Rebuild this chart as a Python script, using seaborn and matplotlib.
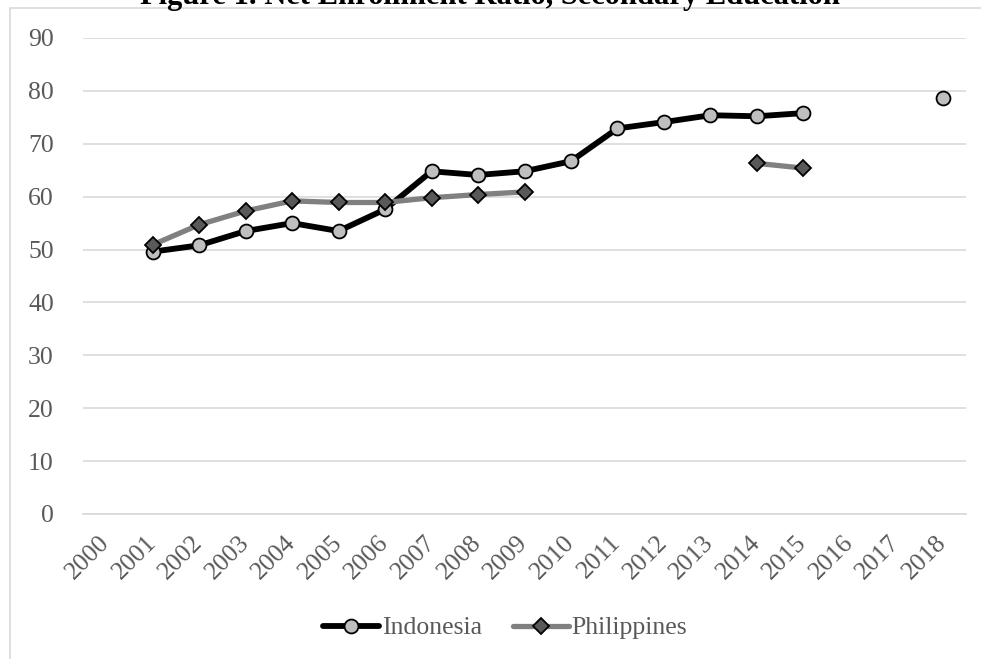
import numpy as np
import pandas as pd
import matplotlib
matplotlib.use("Agg")
import matplotlib.pyplot as plt
from matplotlib.lines import Line2D
from matplotlib.patches import Rectangle
import seaborn as sns

years = list(range(2000, 2019))
indonesia = [np.nan, 49.6, 50.8, 53.5, 55.0, 53.5, 57.6, 64.8, 64.1, 64.8, 66.7,
             72.9, 74.1, 75.4, 75.2, 75.8, np.nan, np.nan, 78.7]
philippines = [np.nan, 50.9, 54.7, 57.3, 59.2, 58.9, 58.9, 59.8, 60.4, 60.9, np.nan,
               np.nan, np.nan, np.nan, 66.3, 65.4, np.nan, np.nan, np.nan]
series_names = ["Indonesia", "Philippines"]
title = "Figure 1. Net Enrollment Ratio, Secondary Education"


def to_long(name, vals):
    rows = []
    seg = 0
    prev_nan = True
    for y, v in zip(years, vals):
        if np.isnan(v):
            prev_nan = True
            continue
        if prev_nan:
            seg += 1
            prev_nan = False
        rows.append({"year": y, "value": v, "country": name, "segment": seg})
    return pd.DataFrame(rows)


sns.set_theme(style="white")
plt.rcParams["font.family"] = ["Liberation Serif", "DejaVu Serif"]

fig = plt.figure(figsize=(9.81, 6.59), dpi=100)
ax = fig.add_axes([83 / 981, 1 - 514 / 659, (966 - 83) / 981, (514 - 38) / 659])

grid_c = "#d9d9d9"
txt_c = "#595959"

styles = {
    "Indonesia": dict(color="black", marker="o", markersize=10, markerfacecolor="#bfbfbf",
                      markeredgecolor="black", markeredgewidth=1.3, linewidth=4.2),
    "Philippines": dict(color="#808080", marker="D", markersize=8, markerfacecolor="#595959",
                        markeredgecolor="black", markeredgewidth=1.3, linewidth=3.8),
}

for name, vals in zip(series_names, [indonesia, philippines]):
    df = to_long(name, vals)
    st = styles[name]
    sns.lineplot(data=df, x="year", y="value", units="segment", estimator=None,
                 color=st["color"], marker=st["marker"], markersize=st["markersize"],
                 markerfacecolor=st["markerfacecolor"], markeredgecolor=st["markeredgecolor"],
                 markeredgewidth=st["markeredgewidth"], linewidth=st["linewidth"],
                 ax=ax, legend=False, zorder=3 if name == "Indonesia" else 4)

ax.set_xlim(1999.5, 2018.5)
ax.set_ylim(0, 90)
ax.set_yticks(range(0, 91, 10))
ax.set_xticks(years)
ax.set_xticklabels([str(y) for y in years])
ax.set_xlabel("")
ax.set_ylabel("")
for s in ["top", "right", "left"]:
    ax.spines[s].set_visible(False)
ax.spines["bottom"].set_color(grid_c)
ax.spines["bottom"].set_linewidth(1.2)
ax.yaxis.grid(True, color=grid_c, linewidth=1.2)
ax.set_axisbelow(True)
ax.tick_params(axis="y", length=0, pad=21, labelsize=18.5, labelcolor=txt_c)
ax.tick_params(axis="x", length=0, pad=18, labelsize=18.5, labelcolor=txt_c)
for lab in ax.get_xticklabels():
    lab.set_rotation(45)
    lab.set_ha("right")
    lab.set_va("center")
    lab.set_rotation_mode("anchor")

handles = [Line2D([], [], **styles[n]) for n in series_names]
fig.legend(handles, series_names, loc="center", bbox_to_anchor=(505 / 981, 1 - 628 / 659),
           ncol=2, frameon=False, fontsize=18.5, labelcolor=txt_c, handlelength=2.2,
           handletextpad=0.1, columnspacing=1.2)

fig.patches.append(Rectangle((10 / 981, -0.1), 1.2, 1 - 8 / 659 + 0.1, transform=fig.transFigure,
                             fill=False, edgecolor=grid_c, linewidth=1.2, zorder=0))
fig.text(490 / 981, 1 - 4 / 659, title, ha="center", va="baseline", fontsize=22,
         fontweight="bold", color="black")

fig.savefig("out.png", dpi=100)
